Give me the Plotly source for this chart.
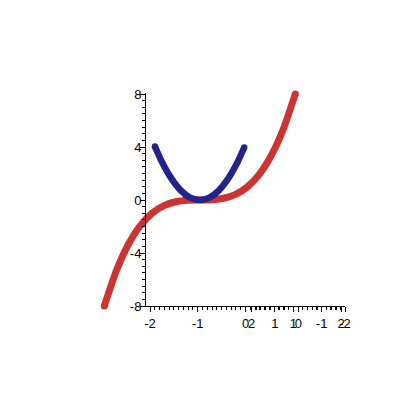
import plotly.graph_objects as go

# ---- data ----
red_x = [-2.0, -1.75, -1.5, -1.25, -1.0, -0.75, -0.5, -0.25, 0.0,
         0.25, 0.5, 0.75, 1.0, 1.25, 1.5, 1.75, 2.0]
red_y = [-8.0, -5.36, -3.38, -1.95, -1.0, -0.42, -0.13, -0.02, 0.0,
         0.02, 0.13, 0.42, 1.0, 1.95, 3.38, 5.36, 8.0]

blue_x = [-0.94, -0.8, -0.6, -0.4, -0.2, 0.0, 0.2, 0.4, 0.6, 0.8, 0.93]
blue_y = [4.04, 2.93, 1.65, 0.73, 0.18, 0.0, 0.18, 0.73, 1.65, 2.93, 3.96]

y_ticks = [-8, -4, 0, 4, 8]
y_labels = ["-8", "-4", "0", "4", "8"]

xa_ticks = [-2, -1, 0, 1, 2]
xa_labels = ["-2", "-1", "0", "1", "2"]
xb_ticks = [2, 1, 0, -1, -2]
xb_labels = ["2", "1", "0", "-1", "-2"]

# ---- layout geometry (pixels) ----
W = H = 400
L, R, T, B = 40, 40, 40, 40
PW, PH = W - L - R, H - T - B
OFF = 8  # page offset of the figure inside the browser window

def fx(px):
    return (px - OFF - L) / PW

def fy(py):
    return (H - B - (py - OFF)) / PH

# main data scale: red x=0 at px 199.8, 47.75 px/unit ; y=0 at py 200, 13.25 px/unit
x0_px, x_scale = 199.8 - OFF, 47.75
y0_px, y_scale = 200.0 - OFF, 13.25
main_xr = [(L - x0_px) / x_scale, (W - R - x0_px) / x_scale]
main_yr = [(y0_px - (H - B)) / y_scale, (y0_px - T) / y_scale]

# visible axes (window pixels)
ax_left_px, ax_right_px = 146, 345
ax_bottom_py, ax_top_py = 306, 93

def lin_range(p_a, v_a, p_b, v_b, d0, d1):
    s = (v_b - v_a) / (p_b - p_a)
    return [v_a + (d0 - p_a) * s, v_a + (d1 - p_a) * s]

xa_range = lin_range(150, -2, 341, 2, ax_left_px, ax_right_px)
xb_left_px = 250
xb_range = lin_range(251.5, 2, 345, -2, xb_left_px, ax_right_px + 1)
y2_range = [(200.0 - ax_bottom_py) / y_scale, (200.0 - ax_top_py) / y_scale]

font = dict(family="Liberation Sans, Arial, sans-serif", size=13, color="black")

fig = go.Figure()
fig.add_trace(go.Scatter(x=red_x, y=red_y, mode="lines",
                         line=dict(color="#cc3333", width=7, shape="spline", smoothing=0.6),
                         xaxis="x", yaxis="y", hoverinfo="skip"))
fig.add_trace(go.Scatter(x=[red_x[0], red_x[-1]], y=[red_y[0], red_y[-1]], mode="markers",
                         marker=dict(color="#cc3333", size=7),
                         xaxis="x", yaxis="y", hoverinfo="skip"))
fig.add_trace(go.Scatter(x=blue_x, y=blue_y, mode="lines",
                         line=dict(color="#23238c", width=6.5, shape="spline", smoothing=0.6),
                         xaxis="x", yaxis="y", hoverinfo="skip"))
fig.add_trace(go.Scatter(x=[blue_x[0], blue_x[-1]], y=[blue_y[0], blue_y[-1]], mode="markers",
                         marker=dict(color="#23238c", size=6.5),
                         xaxis="x", yaxis="y", hoverinfo="skip"))
# dummy traces to host the drawn axes
fig.add_trace(go.Scatter(x=[None], y=[None], xaxis="x2", yaxis="y2", showlegend=False))
fig.add_trace(go.Scatter(x=[None], y=[None], xaxis="x3", yaxis="y2", showlegend=False))

hidden = dict(visible=False, showgrid=False, zeroline=False, fixedrange=True)

fig.update_layout(
    width=W, height=H,
    margin=dict(l=L, r=R, t=T, b=B),
    paper_bgcolor="white", plot_bgcolor="rgba(0,0,0,0)",
    showlegend=False,
    font=font,
    xaxis=dict(domain=[0, 1], range=main_xr, **hidden),
    yaxis=dict(domain=[0, 1], range=main_yr, **hidden),
    xaxis2=dict(domain=[fx(ax_left_px), fx(ax_right_px)], range=xa_range,
                anchor="y2", showgrid=False, zeroline=False,
                showline=True, linecolor="black", linewidth=1,
                ticks="outside", ticklen=5, tickcolor="black", tickwidth=1,
                tickmode="array", tickvals=xa_ticks, ticktext=xa_labels,
                minor=dict(ticks="outside", ticklen=3, dtick=0.1, tick0=0,
                           tickcolor="black", showgrid=False),
                tickfont=font, fixedrange=True),
    xaxis3=dict(domain=[fx(xb_left_px), fx(ax_right_px + 1)], range=xb_range,
                anchor="y2", showgrid=False, zeroline=False,
                showline=False,
                ticks="outside", ticklen=5, tickcolor="black", tickwidth=1,
                tickmode="array", tickvals=xb_ticks, ticktext=xb_labels,
                minor=dict(ticks="outside", ticklen=3, dtick=0.2, tick0=0,
                           tickcolor="black", showgrid=False),
                tickfont=font, fixedrange=True),
    yaxis2=dict(domain=[fy(ax_bottom_py), fy(ax_top_py)], range=y2_range,
                anchor="x2", showgrid=False, zeroline=False,
                showline=True, linecolor="black", linewidth=1,
                ticks="outside", ticklen=5, tickcolor="black", tickwidth=1,
                tickmode="array", tickvals=y_ticks, ticktext=y_labels,
                ticklabelstandoff=-4,
                minor=dict(ticks="outside", ticklen=3, dtick=0.5, tick0=0,
                           tickcolor="black", showgrid=False),
                tickfont=font, fixedrange=True),
)

fig.write_html("out.html", config={"displayModeBar": False})
